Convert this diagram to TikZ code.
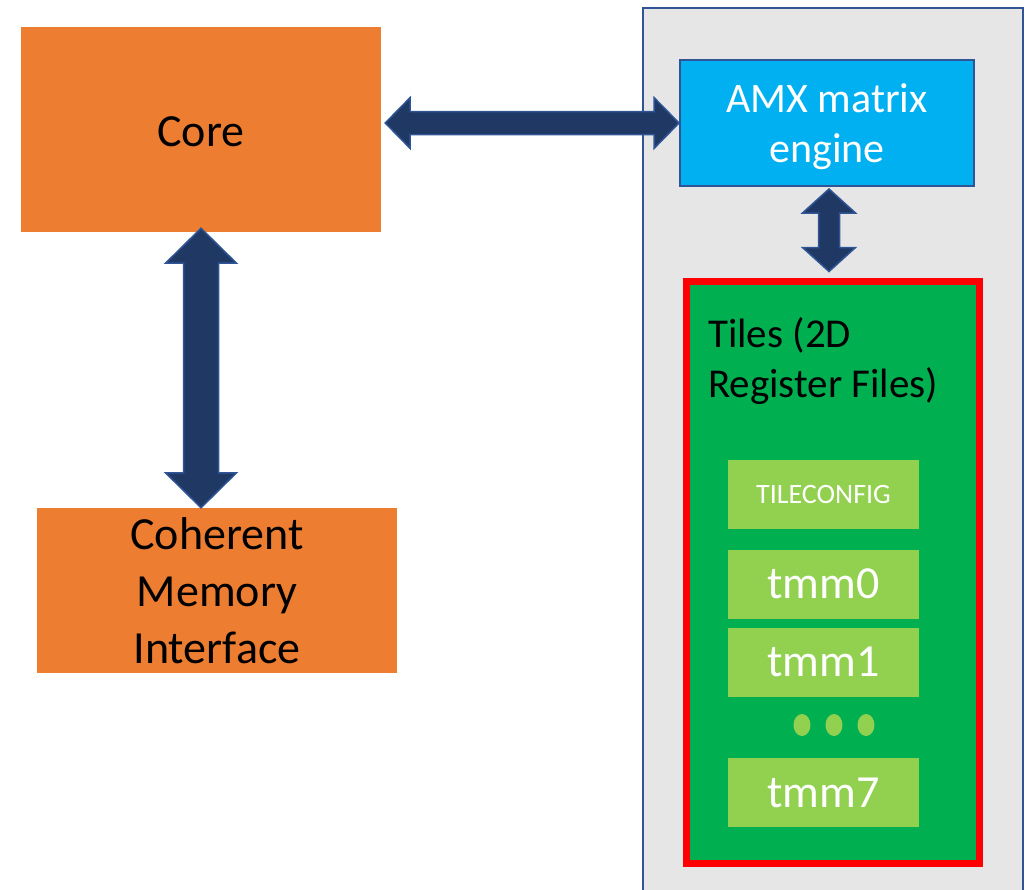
\documentclass[tikz,border=0pt]{standalone}
\usepackage{fontspec}
\setmainfont{Carlito}
\usetikzlibrary{calc,shapes.geometric}

\definecolor{coreorange}{HTML}{ED7D31}
\definecolor{amxblue}{HTML}{00B0F0}
\definecolor{edgeblue}{HTML}{2F5597}
\definecolor{arrowblue}{HTML}{203864}
\definecolor{unitgray}{HTML}{E6E6E6}
\definecolor{tilegreen}{HTML}{00B050}
\definecolor{reggreen}{HTML}{92D050}

\tikzset{
  block/.style={rectangle, fill=coreorange, inner sep=0pt, align=center,
    font=\fontsize{46}{57}\selectfont},
  reg/.style={rectangle, fill=reggreen, text=white, inner sep=0pt,
    minimum width=191pt, minimum height=69pt, font=\fontsize{46}{56}\selectfont},
  blockarrow/.style={fill=arrowblue, draw=edgeblue, line width=1.5pt, line join=miter},
}

\begin{document}
\begin{tikzpicture}[x=1pt, y=-1pt]

%% arrow shapes: #1 tip, #2 other tip, #3 shaft half, #4 head half, #5 head length
\newcommand\VARROW[5]{%
\filldraw[blockarrow] (#1) -- ($(#1)+(#4,#5)$) -- ($(#1)+(#3,#5)$)
  -- ($(#2)+(#3,-#5)$) -- ($(#2)+(#4,-#5)$) -- (#2)
  -- ($(#2)+(-#4,-#5)$) -- ($(#2)+(-#3,-#5)$)
  -- ($(#1)+(-#3,#5)$) -- ($(#1)+(-#4,#5)$) -- cycle;}
\newcommand\HARROW[5]{%
\filldraw[blockarrow] (#1) -- ($(#1)+(#5,-#4)$) -- ($(#1)+(#5,-#3)$)
  -- ($(#2)+(-#5,-#3)$) -- ($(#2)+(-#5,-#4)$) -- (#2)
  -- ($(#2)+(-#5,#4)$) -- ($(#2)+(-#5,#3)$)
  -- ($(#1)+(#5,#3)$) -- ($(#1)+(#5,#4)$) -- cycle;}

\clip (0,0) rectangle (1027,889);

%% left side
\node[block, minimum width=360pt, minimum height=205pt, text height=34pt] (core) at (201,129.5) {Core};
\node[block, minimum width=360pt, minimum height=165pt] (cmi) at (217,590.5)
  {Coherent\\Memory\\Interface};

%% AMX unit
\node[draw=edgeblue, fill=unitgray, line width=1.5pt, minimum width=380pt,
  minimum height=893pt, anchor=north west] (unit) at (642,7) {};

\node[draw=edgeblue, fill=amxblue, line width=2pt, text=white, align=center,
  minimum width=294pt, minimum height=126pt, inner sep=0pt, text depth=0pt,
  font=\fontsize{42}{50}\selectfont] (amx) at (827,123) {AMX matrix\\engine};

\node[draw=red, line width=7pt, fill=tilegreen, minimum width=293pt,
  minimum height=582pt] (tiles) at (832.5,572) {};
\node[anchor=north west, align=left, inner sep=0pt,
  font=\fontsize{41}{50}\selectfont] (tileslabel) at (708,317) {Tiles (2D\\Register Files)};

%% registers
\node[reg, font=\fontsize{28}{34}\selectfont] (tileconfig) at (823.5,494.5) {TILECONFIG};
\node[reg] (tmm0) at (823.5,584) {tmm0};
\node[reg] (tmm1) at (823.5,662) {tmm1};
\foreach \i/\x in {1/802,2/834,3/866}
  \node[ellipse, fill=reggreen, inner sep=0pt, minimum width=17pt,
    minimum height=22pt] (dot\i) at (\x,725) {};
\node[reg] (tmm7) at (823.5,792.5) {tmm7};

%% arrows
\coordinate (hl) at ($(core.east |- amx.west)+(4,0)$);
\HARROW{hl}{amx.west}{11.5}{25.5}{25}
\coordinate (vt) at ($(core.south)+(0,-4)$);
\coordinate (vb) at (core.south |- cmi.north);
\VARROW{vt}{vb}{17.5}{35.5}{35}
\coordinate (at) at ($(amx.south)+(2,2)$);
\coordinate (ab) at ($(at |- tiles.north)+(0,-6)$);
\VARROW{at}{ab}{10.5}{26.5}{24}

\end{tikzpicture}
\end{document}
